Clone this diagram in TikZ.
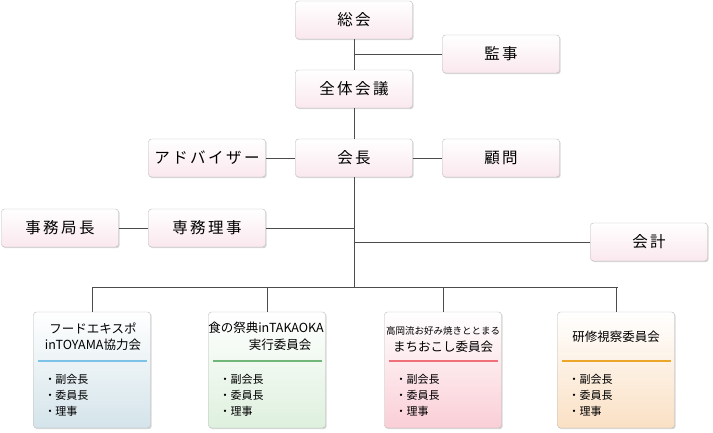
\documentclass[tikz,border=0pt]{standalone}
\usepackage{fontspec}
\setmainfont{Noto Sans CJK JP}
\newfontfamily\jpwide[LetterSpace=16]{Noto Sans CJK JP}
\usetikzlibrary{positioning, calc, shadows}

\definecolor{boxpink}{RGB}{250,232,238}
\definecolor{lineblue}{RGB}{125,195,232}
\definecolor{linegreen}{RGB}{112,182,120}
\definecolor{linered}{RGB}{240,112,122}
\definecolor{lineorange}{RGB}{236,166,42}
\definecolor{shadeblue}{RGB}{212,228,234}
\definecolor{shadegreen}{RGB}{222,240,222}
\definecolor{shadered}{RGB}{250,206,214}
\definecolor{shadeorange}{RGB}{250,224,196}

\begin{document}
\begin{tikzpicture}[
    x=1pt, y=-1pt,
    orgbox/.style={
        rectangle, rounded corners=3pt, draw=gray!55, top color=white,
        bottom color=boxpink, minimum width=117pt, minimum height=38pt,
        inner sep=0pt, font=\jpwide\fontsize{15.5}{18}\selectfont,
        drop shadow={shadow xshift=1.2pt, shadow yshift=-1.2pt, opacity=0.3}
    },
    combox/.style={
        rectangle, rounded corners=3pt, draw=gray!55, top color=white,
        middle color=white, minimum width=117pt, minimum height=116pt,
        inner sep=0pt,
        drop shadow={shadow xshift=1.2pt, shadow yshift=-1.2pt, opacity=0.3}
    },
    ttl/.style={font=\fontsize{12.5}{15}\selectfont, inner sep=0pt},
    small/.style={font=\fontsize{9.5}{12}\selectfont, inner sep=0pt},
    item/.style={font=\fontsize{11}{13}\selectfont, inner sep=0pt, anchor=west},
    conn/.style={draw=gray!60!black, line width=0.8pt},
    uline/.style={line width=2pt},
]
\useasboundingbox (0,0) rectangle (713,433);

% ================================================================
%  TOP: GENERAL ASSEMBLY ... CHAIRMAN
% ================================================================
\node[orgbox] (soukai)  at (354, 20)  {総会};
\node[orgbox] (kanji)   at (501, 54)  {監事};
\node[orgbox] (zentai)  at (354, 89)  {全体会議};
\node[orgbox] (adviser) at (207, 158) {アドバイザー};
\node[orgbox] (kaicho)  at (354, 158) {会長};
\node[orgbox] (komon)   at (501, 158) {顧問};
\node[orgbox] (jimu)    at (60, 228)  {事務局長};
\node[orgbox] (senmu)   at (207, 228) {専務理事};
\node[orgbox] (kaikei)  at (649, 242) {会計};

\coordinate (bus)  at (354, 287);
\coordinate (busL) at (93, 287);
\coordinate (busR) at (618, 287);

\draw[conn] (soukai.south) -- (zentai.north);
\draw[conn] (kanji.west) -- (kanji.west -| soukai.south);
\draw[conn] (zentai.south) -- (kaicho.north);
\draw[conn] (adviser.east) -- (kaicho.west);
\draw[conn] (kaicho.east) -- (komon.west);
\draw[conn] (kaicho.south) -- (bus);
\draw[conn] (jimu.east) -- (senmu.west);
\draw[conn] (senmu.east) -- (senmu.east -| bus);
\draw[conn] (kaikei.west) -- (kaikei.west -| bus);
\draw[conn] (busL) -- (busR);

% ================================================================
%  BOTTOM: COMMITTEES
% ================================================================
\node[combox, bottom color=shadeblue]   (com1) at (92, 370)  {};
\node[combox, bottom color=shadegreen]  (com2) at (267, 370) {};
\node[combox, bottom color=shadered]    (com3) at (443, 370) {};
\node[combox, bottom color=shadeorange] (com4) at (616, 370) {};

\foreach \c in {com1, com2, com3, com4}
    \draw[conn] (\c.north) -- (\c.north |- bus);

% --- titles ---
\node[ttl] (t1a) at (93, 328)  {フードエキスポ};
\node[ttl] (t1b) at (93, 345)  {inTOYAMA協力会};
\node[ttl] (t2a) at (266, 328) {食の祭典inTAKAOKA};
\node[ttl] (t2b) at (280, 345) {実行委員会};
\node[small] (t3a) at (443, 331) {高岡流お好み焼きととまる};
\node[ttl]   (t3b) at (443, 347) {まちおこし委員会};
\node[ttl] (t4a) at (616, 337) {研修視察委員会};

% --- coloured rules under the titles ---
\draw[uline, lineblue]   ([xshift=5pt]com1.west |- 0,361) -- ([xshift=-4pt]com1.east |- 0,361);
\draw[uline, linegreen]  ([xshift=5pt]com2.west |- 0,361) -- ([xshift=-4pt]com2.east |- 0,361);
\draw[uline, linered]    ([xshift=5pt]com3.west |- 0,361) -- ([xshift=-4pt]com3.east |- 0,361);
\draw[uline, lineorange] ([xshift=5pt]com4.west |- 0,361) -- ([xshift=-4pt]com4.east |- 0,361);

% --- member lists ---
\foreach \c/\n in {com1/a, com2/b, com3/c, com4/d} {
    \node[item] (\n1) at ([xshift=11pt]\c.west |- 0,379) {・副会長};
    \node[item] (\n2) at ([xshift=11pt]\c.west |- 0,395) {・委員長};
    \node[item] (\n3) at ([xshift=11pt]\c.west |- 0,411) {・理事};
}

\end{tikzpicture}
\end{document}
